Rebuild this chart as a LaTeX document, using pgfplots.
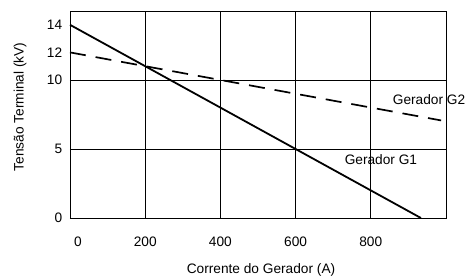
\documentclass[border=0pt]{standalone}
\usepackage{pgfplots}
\pgfplotsset{compat=1.18}
\usepackage{fontspec}
\setmainfont{Liberation Sans}
\begin{document}
\fontsize{13.7}{16}\selectfont
\begin{tikzpicture}
\path[use as bounding box] (-70pt,-58pt) rectangle (396pt,218pt);
\begin{axis}[
  at={(0,0)}, anchor=south west,
  scale only axis, width=376pt, height=207pt,
  xmin=0, xmax=1000, ymin=0, ymax=15,
  clip=false,
  axis line style={black, line width=0.9pt},
  xtick={200,400,600,800},
  ytick={0,5,10},
  extra x ticks={0}, extra x tick style={grid=none, xticklabel style={xshift=8pt}},
  extra y ticks={12,14}, extra y tick style={grid=none},
  major tick length=0pt,
  grid=major,
  grid style={black, line width=0.7pt},
  xticklabel style={yshift=-14pt},
  yticklabel style={xshift=-3pt},
  /pgf/number format/assume math mode=true,
  xlabel={Corrente do Gerador (A)},
  ylabel={Tensão Terminal (kV)},
  xlabel style={at={(axis description cs:0.508,-0.251)}, anchor=center},
  ylabel style={at={(axis description cs:-0.133,0.536)}, anchor=center},
]
\addplot[black, line width=1.8pt] coordinates {(0,14) (933.3,0)};
\addplot[black, line width=1.7pt, dash pattern=on 16pt off 10pt] coordinates {(0,12) (987,7.07)};
\node at (axis cs:955,8.55) {Gerador G2};
\node at (axis cs:827,4.2) {Gerador G1};
\end{axis}
\end{tikzpicture}
\end{document}
